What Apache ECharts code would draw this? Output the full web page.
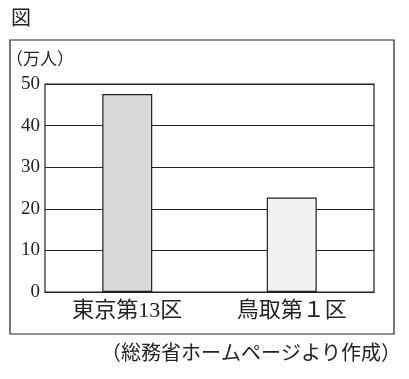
<!DOCTYPE html>
<html><head><meta charset="utf-8">
<script src="https://cdn.jsdelivr.net/npm/echarts@6/dist/echarts.min.js"></script>
<style>html,body{margin:0;padding:0;background:#fff}#c{width:409px;height:379px}</style>
</head><body><div id="c"></div>
<script>
const categories = ['東京第13区', '鳥取第１区'];
const values = [47.6, 22.7];
const barColors = ['#d9d9d9', '#f1f1f1'];
const yTicks = [0, 10, 20, 30, 40, 50];
const unitLabel = '（万人）';
const figLabel = '図';
const sourceText = '（総務省ホームページより作成）';

const FONT = '"Liberation Serif", "Noto Sans CJK JP", serif';
const chart = echarts.init(document.getElementById('c'));
chart.setOption({
  animation: false,
  backgroundColor: '#fff',
  grid: { left: 45, right: 35, top: 84, bottom: 87, show: true, borderColor: '#222', borderWidth: 1.2 },
  xAxis: {
    type: 'category', data: categories,
    axisLine: { lineStyle: { color: '#222', width: 1.2 } },
    axisTick: { show: false },
    axisLabel: { color: '#222', fontSize: 22, fontFamily: FONT, margin: 8 }
  },
  yAxis: {
    type: 'value', min: yTicks[0], max: yTicks[yTicks.length - 1], interval: 10,
    axisLine: { show: false }, axisTick: { show: false },
    axisLabel: { color: '#222', fontSize: 19, fontFamily: FONT, margin: 5 },
    splitLine: { lineStyle: { color: '#222', width: 1.2 } }
  },
  series: [{
    type: 'bar', barWidth: 50,
    data: values.map((v, i) => ({ value: v, itemStyle: { color: barColors[i] } })),
    itemStyle: { borderColor: '#222', borderWidth: 1.2 }
  }],
  graphic: [
    { type: 'rect', shape: { x: 10, y: 40, width: 384, height: 294 }, style: { fill: 'none', stroke: '#222', lineWidth: 1.2 }, silent: true },
    { type: 'text', left: 11, top: 7, style: { text: figLabel, font: '20px "Noto Sans CJK JP"', fill: '#222' } },
    { type: 'text', left: 6, top: 50, style: { text: unitLabel, font: '17px "Noto Sans CJK JP"', fill: '#222' } },
    { type: 'text', right: 8, top: 342, style: { text: sourceText, font: '20px "Noto Sans CJK JP"', fill: '#222' } }
  ]
});
</script></body></html>
